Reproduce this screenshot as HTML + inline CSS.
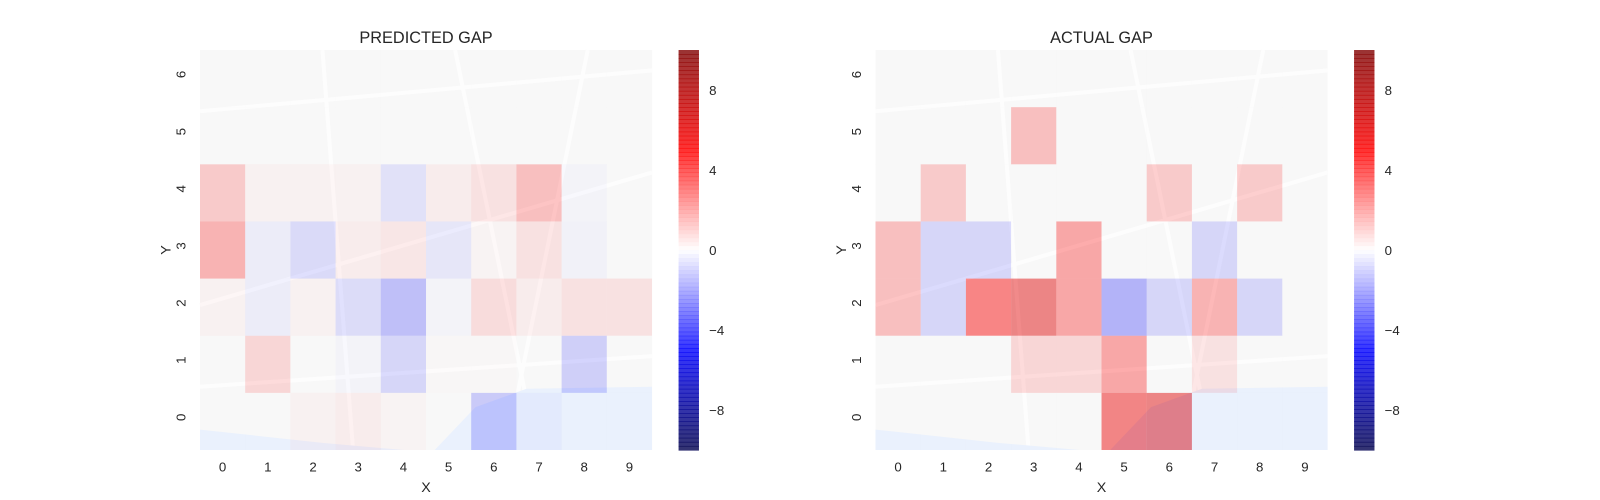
<!DOCTYPE html>
<html><head><meta charset="utf-8">
<style>
html,body{margin:0;padding:0;background:#fff;width:1600px;height:500px;overflow:hidden;}
svg{display:block;font-family:"Liberation Sans",sans-serif;}
</style></head>
<body>
<svg id="chart" width="1600" height="500" viewBox="0 0 1600 500" xmlns="http://www.w3.org/2000/svg"><g id="root" transform="scale(1.0204)"></g></svg>
<script>
const xCategories = ["0","1","2","3","4","5","6","7","8","9"];
const yCategories = ["0","1","2","3","4","5","6"];
const colorbarTicks = [8,4,0,-4,-8];
// rows indexed by y (0 = bottom), columns by x
const predictedGap = [
  [0,0,0.3,0.5,0.2,0,-2,-0.3,0,0],
  [0,1.5,0,-0.2,-1.5,0.1,0.1,0,-1.8,0],
  [0.3,-0.5,0.3,-1.2,-2.5,-0.2,1.2,0.5,1,1],
  [3,-0.5,-1.3,0.5,0.8,-0.8,0.2,1,-0.3,0],
  [2,0.3,0.3,0.3,-1,0.5,1,2.5,-0.2,0],
  [0,0,0,0,0,0,0,0,0,0],
  [0,0,0,0,0,0,0,0,0,0]
];
const actualGap = [
  [0,0,0,0,0,5.5,6,0,0,0],
  [0,0,0,1.5,1.5,3.5,0,1,0,0],
  [2.5,-1.5,5,6,3.5,-3,-1.5,3,-1.5,0],
  [2.5,-1.5,-1.5,0,3.5,0,0,-1.5,0,0],
  [0,2,0,0,0,0,2,0,2,0],
  [0,0,0,2.5,0,0,0,0,0,0],
  [0,0,0,0,0,0,0,0,0,0]
];
const vmin=-10, vmax=10;
const NS="http://www.w3.org/2000/svg";
const svg=document.getElementById('root');
function mk(tag,attrs,parent){const e=document.createElementNS(NS,tag);for(const k in attrs)e.setAttribute(k,attrs[k]);(parent||svg).appendChild(e);return e;}
function seismic(v){
  let t=(v-vmin)/(vmax-vmin); t=Math.max(0,Math.min(1,t));
  let r,g,b;
  if(t<0.25){const s=t/0.25;r=0;g=0;b=0.3+0.7*s;}
  else if(t<0.5){const s=(t-0.25)/0.25;r=s;g=s;b=1;}
  else if(t<0.75){const s=(t-0.5)/0.25;r=1;g=1-s;b=1-s;}
  else{const s=(t-0.75)/0.25;r=1-0.5*s;g=0;b=0;}
  return `rgb(${Math.round(r*255)},${Math.round(g*255)},${Math.round(b*255)})`;
}
function panel(px,title,data,name){
  const W=443,H=392,top=49;
  const g=mk('g',{});
  
  
  const x=i=>px+i*W/xCategories.length;
  const y=j=>top+H-(j+1)*H/yCategories.length;
  const cw=W/xCategories.length, ch=H/yCategories.length;
  const bg=mk('rect',{x:px,y:top,width:W,height:H,fill:'#f2f2f2'},g);
  
  
  const roads=[[0,60,443,20],[0,250,443,120],[120,0,150,392],[250,0,330,392],[0,330,443,300],[380,0,300,392]];
  roads.forEach(r=>{const l=mk('line',{x1:px+r[0],y1:top+r[1],x2:px+r[2],y2:top+r[3],stroke:'#fbfbfb','stroke-width':4},g);
    });
  const w=mk('path',{d:`M${px} ${top+372} L${px+120} ${top+385} L${px+200} ${top+392} L${px} ${top+392}Z M${px+230} ${top+392} L${px+270} ${top+350} L${px+320} ${top+332} L${px+443} ${top+330} L${px+443} ${top+392}Z`,fill:'#d9e6fb'},g);
  
  for(let j=0;j<yCategories.length;j++)for(let i=0;i<xCategories.length;i++){
    const v=data[j][i];
    const c=mk('rect',{x:x(i),y:y(j),width:cw,height:ch,fill:seismic(v),'fill-opacity':0.45},g);
    
    
  }
  const t=mk('text',{x:px+W/2,y:42,'text-anchor':'middle','font-size':16,fill:'#262626'},g);
  t.textContent=title;
  xCategories.forEach((c,i)=>{const e=mk('text',{x:x(i)+cw/2,y:462,'text-anchor':'middle','font-size':13,fill:'#262626'},g);
    e.textContent=c;});
  yCategories.forEach((c,j)=>{const cy=y(j)+ch/2;const e=mk('text',{x:px-14,y:cy+4,'text-anchor':'middle','font-size':13,fill:'#262626',transform:`rotate(-90 ${px-18} ${cy})`},g);
    e.textContent=c;});
  const xl=mk('text',{x:px+W/2,y:482,'text-anchor':'middle','font-size':14,fill:'#262626'},g);
  xl.textContent='X';
  const yl=mk('text',{x:px-34,y:top+H/2+5,'text-anchor':'middle','font-size':14,fill:'#262626',transform:`rotate(-90 ${px-34} ${top+H/2})`},g);
  yl.textContent='Y';
  const cbx=px+469, cbw=20;
  const cb=mk('g',{},g);
  
  const vy=v=>top+H*(vmax-v)/(vmax-vmin);
  const N=98;
  for(let k=0;k<N;k++){
    const v=vmax-(k+0.5)*(vmax-vmin)/N;
    const r=mk('rect',{x:cbx,y:top+k*H/N,width:cbw,height:H/N+0.6,fill:seismic(v),'fill-opacity':0.8},cb);
    
  }
  colorbarTicks.forEach(v=>{const e=mk('text',{x:cbx+cbw+10,y:vy(v)+5,'font-size':13,fill:'#262626'},cb);
    
    e.textContent=v<0?'\u2212'+Math.abs(v):String(v);});
}
panel(196,'PREDICTED GAP',predictedGap,'predicted-gap-panel');
panel(858,'ACTUAL GAP',actualGap,'actual-gap-panel');
</script>
</body></html>
